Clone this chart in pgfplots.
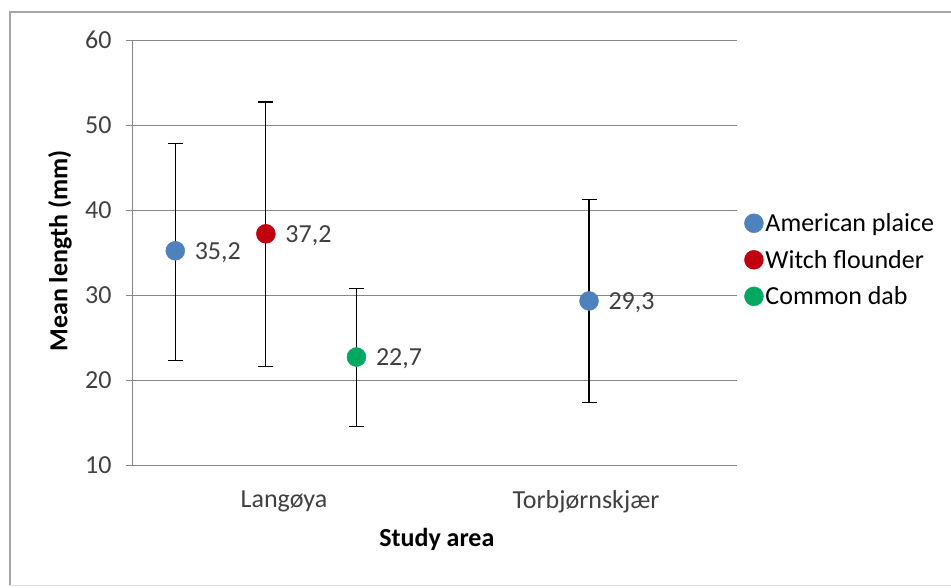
\documentclass[border=0pt]{standalone}
\usepackage{pgfplots}
\pgfplotsset{compat=1.18}
\usepackage{fontspec}
\setmainfont{Carlito}
\definecolor{apblue}{HTML}{4F81BD}
\definecolor{wfred}{HTML}{C00010}
\definecolor{cdgreen}{HTML}{00A860}
\definecolor{txt}{HTML}{404040}
\definecolor{gridc}{HTML}{868686}
\newcommand\cf{\fontsize{26}{30}\selectfont}
\begin{document}
\begin{tikzpicture}
\useasboundingbox (0pt,0pt) rectangle (951pt,587pt);
\draw[gray!70, line width=1.2pt] (10pt,2pt) -- (10pt,575pt) -- (960pt,575pt);
\draw[gray!25, line width=1pt] (10pt,2pt) -- (960pt,2pt);
\begin{axis}[
  at={(133pt,122pt)}, anchor=south west,
  width=604pt, height=425pt, scale only axis,
  xmin=0, xmax=2, ymin=10, ymax=60,
  ytick={10,20,...,60},
  xtick={0.5,1.5}, xticklabels={Langøya,Torbjørnskjær},
  major x tick style={draw=none},
  extra x ticks={0,1,2}, extra x tick labels={},
  extra x tick style={major tick length=7pt, tick style={gridc, line width=1pt}},
  tick align=outside, major tick length=7pt,
  ymajorgrids, grid style={gridc, line width=1pt},
  axis x line*=bottom, axis y line*=left,
  axis line style={gridc, line width=1pt, -},
  y tick style={gridc, line width=1pt},
  /pgf/number format/assume math mode=true,
  tick label style={font=\cf, text=txt},
  yticklabel style={xshift=-11pt},
  xticklabel style={yshift=-15pt},
  xlabel={\textbf{Study area}},
  ylabel={\textbf{Mean length (mm)}},
  xlabel style={font=\cf, at={(axis description cs:0.503,-0.176)}, anchor=center},
  ylabel style={font=\cf, at={(axis description cs:-0.121,0.504)}, anchor=center},
  legend style={at={(1.012,0.597)}, anchor=north west, draw=none, fill=none,
    font=\cf, text=black, row sep=13pt, inner sep=0pt,
    /tikz/every even column/.append style={column sep=0pt}},
  legend cell align=left,
  nodes near coords, point meta=explicit symbolic,
  every node near coord/.append style={font=\cf, text=txt, anchor=west, xshift=16pt, yshift=-2pt},
  error bars/y dir=both, error bars/y explicit,
  error bars/error bar style={black, line width=1.2pt},
  error bars/error mark options={rotate=90, mark size=7.5pt, black, line width=1.2pt},
]
\addplot[only marks, mark=*, mark size=9.5pt, mark options={apblue, fill=apblue}]
  table[x=x, y=y, y error plus=ep, y error minus=em, meta=lab] {
x y ep em lab
0.14 35.2 12.6 12.9 {35,2}
1.51 29.3 11.9 11.9 {29,3}
};
\addlegendentry{American plaice}
\addplot[only marks, mark=*, mark size=9.5pt, mark options={wfred, fill=wfred}]
  table[x=x, y=y, y error plus=ep, y error minus=em, meta=lab] {
x y ep em lab
0.44 37.2 15.5 15.6 {37,2}
};
\addlegendentry{Witch flounder}
\addplot[only marks, mark=*, mark size=9.5pt, mark options={cdgreen, fill=cdgreen}]
  table[x=x, y=y, y error plus=ep, y error minus=em, meta=lab] {
x y ep em lab
0.74 22.7 8.1 8.2 {22,7}
};
\addlegendentry{Common dab}
\end{axis}
\end{tikzpicture}
\end{document}
